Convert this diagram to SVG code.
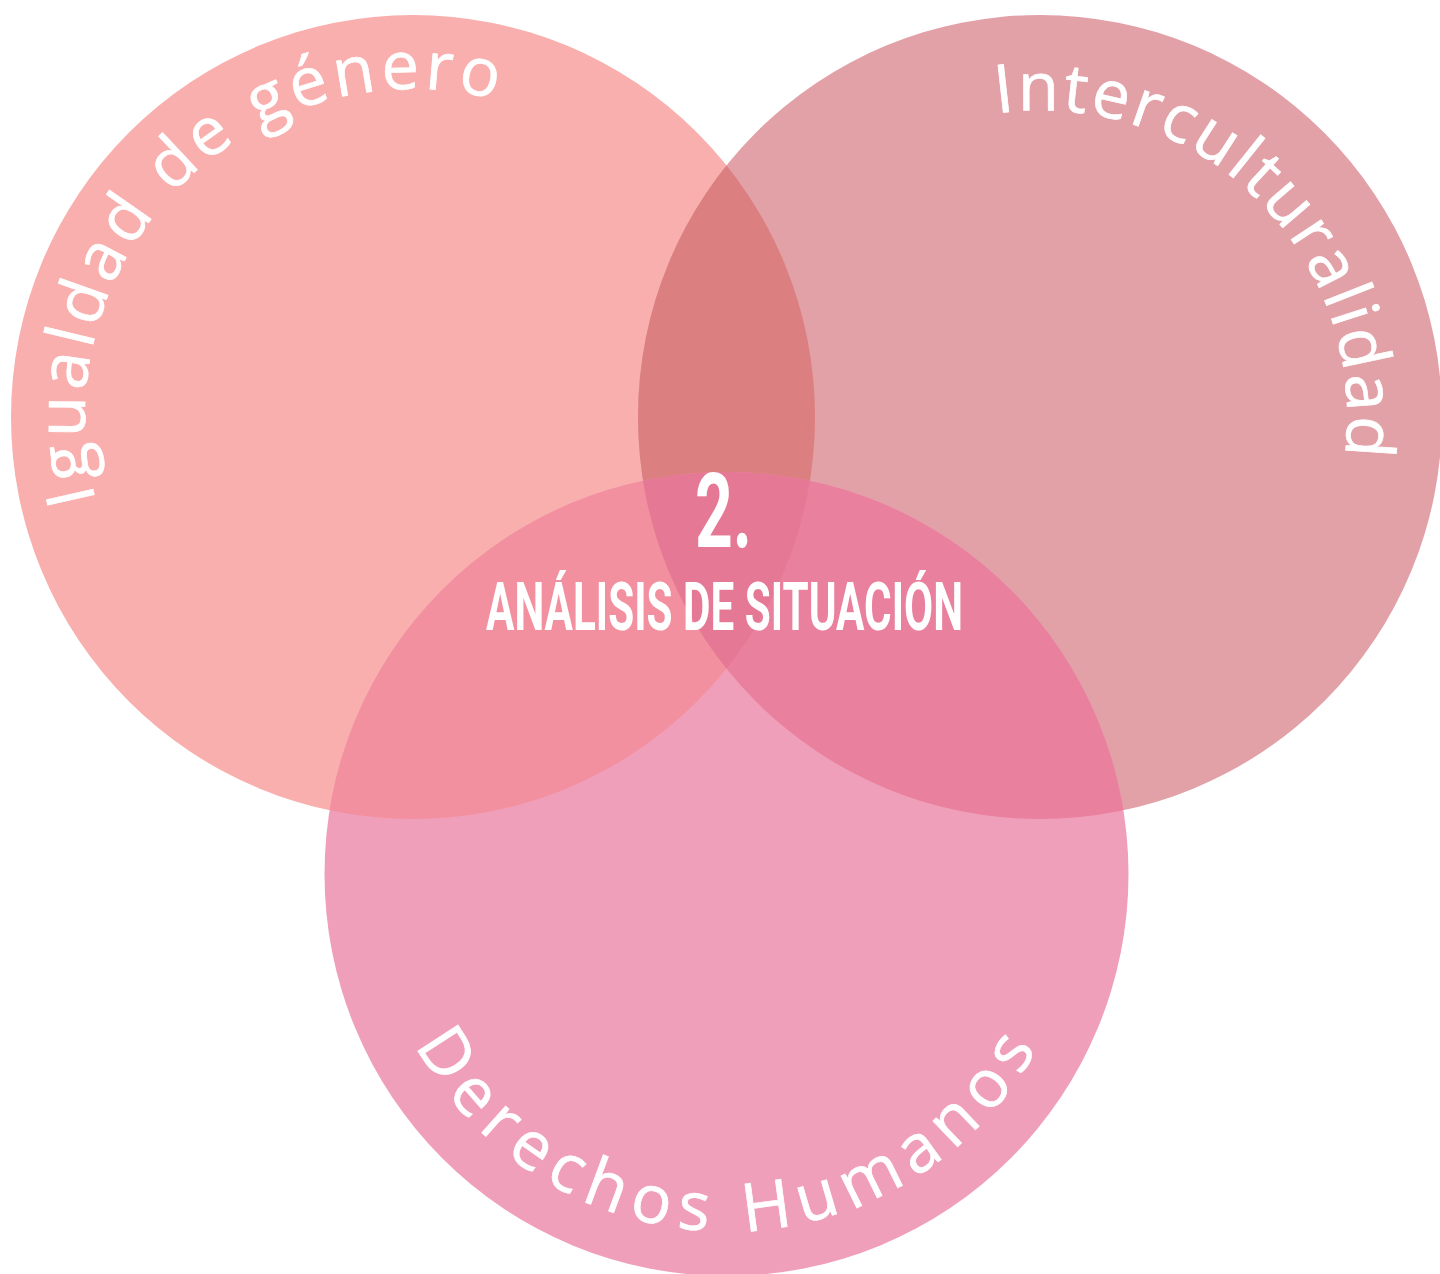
<svg xmlns="http://www.w3.org/2000/svg" xmlns:xlink="http://www.w3.org/1999/xlink" width="1440" height="1274" viewBox="0 0 1440 1274">
<style>
.lbl{font-family:"Open Sans","DejaVu Sans",sans-serif;font-size:67px;fill:#ffffff;stroke:#ffffff;stroke-width:0.7px}
.ctr{font-family:Roboto,"Liberation Sans",sans-serif;font-weight:700;fill:#ffffff}
</style>
<defs>
<clipPath id="cL"><circle cx="413" cy="417" r="402"/></clipPath>
<clipPath id="cR"><circle cx="1040" cy="417" r="402"/></clipPath>
<path id="pL" d="M128.94,581 A328,328 0 1,1 697.06,253 A328,328 0 1,1 128.94,581"/>
<path id="pR" d="M887,152 A306,306 0 1,1 1193,682 A306,306 0 1,1 887,152"/>
<path id="pB" d="M377.9,935.5 A354,354 0 1,0 1075.1,812.5 A354,354 0 1,0 377.9,935.5"/>
</defs>
<rect width="1440" height="1274" fill="#ffffff"/>
<g id="circle-igualdad">
<circle cx="413" cy="417" r="402" fill="#f8afad"/>
</g>
<g id="circle-interculturalidad">
<circle cx="1040" cy="417" r="402" fill="#e2a0a7"/>
</g>
<g id="circle-derechos">
<circle cx="726.5" cy="874" r="402" fill="#f09fba"/>
</g>
<g id="overlaps">
<circle cx="1040" cy="417" r="402" fill="#dc7f80" clip-path="url(#cL)"/>
<circle cx="726.5" cy="874" r="402" fill="#f3909f" clip-path="url(#cL)"/>
<circle cx="726.5" cy="874" r="402" fill="#e9809e" clip-path="url(#cR)"/>
<g clip-path="url(#cL)"><circle cx="726.5" cy="874" r="402" fill="#e57895" clip-path="url(#cR)"/></g>
</g>
<g id="connectors"></g>
<g id="labels">
<text class="lbl" letter-spacing="4.7"><textPath xlink:href="#pL" href="#pL" startOffset="87">Igualdad de género</textPath></text>
<text class="lbl" letter-spacing="2.7"><textPath xlink:href="#pR" href="#pR" startOffset="117">Interculturalidad</textPath></text>
<text class="lbl" letter-spacing="9.4"><textPath xlink:href="#pB" href="#pB" startOffset="116">Derechos Humanos</textPath></text>
</g>
<g id="center">
<text class="ctr" x="695" y="547" font-size="104" textLength="57" lengthAdjust="spacingAndGlyphs">2.</text>
<text class="ctr" x="486" y="630" font-size="66" textLength="477" lengthAdjust="spacingAndGlyphs">ANÁLISIS DE SITUACIÓN</text>
</g>
</svg>
